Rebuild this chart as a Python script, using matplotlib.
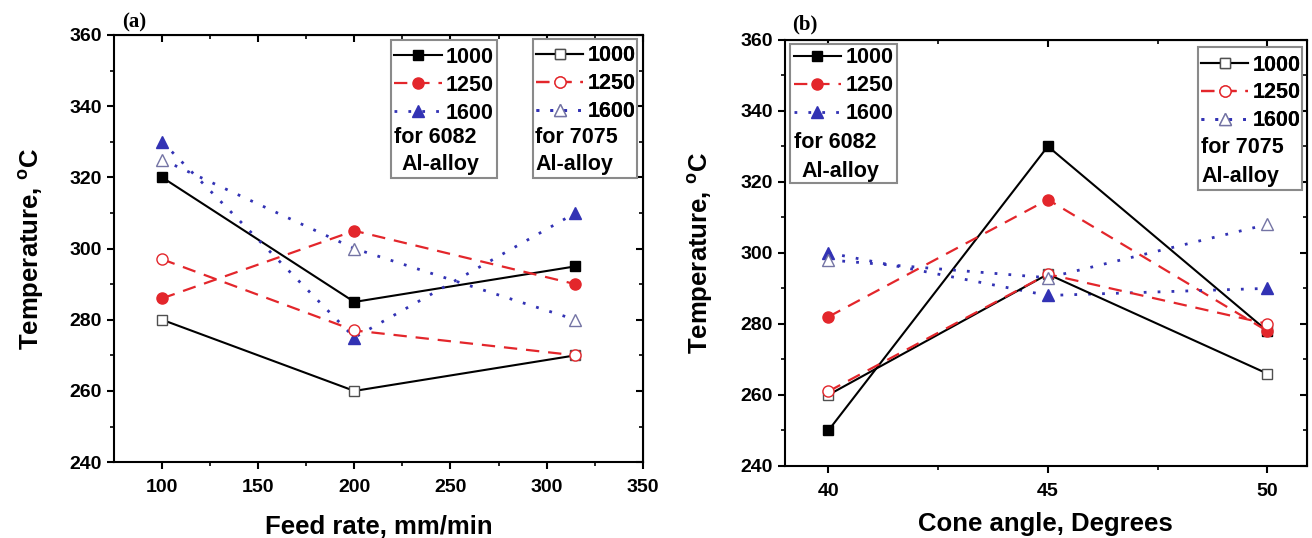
import matplotlib
matplotlib.use("Agg")
import matplotlib.pyplot as plt
from matplotlib.patches import Rectangle
from matplotlib.ticker import MultipleLocator, FixedLocator

plt.rcParams['font.family'] = ['Liberation Sans', 'DejaVu Sans']
plt.rcParams['font.weight'] = 'bold'
plt.rcParams['mathtext.fontset'] = 'custom'
plt.rcParams['mathtext.rm'] = 'Liberation Sans:bold'
plt.rcParams['mathtext.bf'] = 'Liberation Sans:bold'

# ---------------- data ----------------
speeds = ["1000", "1250", "1600"]

feed_rate = [100, 200, 315]
a_6082_1000 = [320, 285, 295]
a_6082_1250 = [286, 305, 290]
a_6082_1600 = [330, 275, 310]
a_7075_1000 = [280, 260, 270]
a_7075_1250 = [297, 277, 270]
a_7075_1600 = [325, 300, 280]

cone_angle = [40, 45, 50]
b_6082_1000 = [250, 330, 278]
b_6082_1250 = [282, 315, 278]
b_6082_1600 = [300, 288, 290]
b_7075_1000 = [260, 294, 266]
b_7075_1250 = [261, 294, 280]
b_7075_1600 = [298, 293, 308]

yticks = [240, 260, 280, 300, 320, 340, 360]
a_xticks = [100, 150, 200, 250, 300, 350]
b_xticks = [40, 45, 50]

# ---------------- styles ----------------
RED = '#e3262b'
BLUE = '#3232b4'
TRI_OPEN = '#7474a4'
SQ_OPEN = '#505050'

styles_filled = [
    dict(color='black', ls='-', lw=1.5, marker='s', ms=7, mfc='black', mec='black'),
    dict(color=RED, ls=(0, (6, 4)), lw=1.6, marker='o', ms=8, mfc=RED, mec=RED),
    dict(color=BLUE, ls=(0, (1, 4)), lw=2.0, marker='^', ms=8, mfc=BLUE, mec=BLUE),
]
styles_open = [
    dict(color='black', ls='-', lw=1.5, marker='s', ms=7, mfc='white', mec=SQ_OPEN, mew=1.0),
    dict(color=RED, ls=(0, (6, 4)), lw=1.6, marker='o', ms=8, mfc='white', mec=RED, mew=1.0),
    dict(color=BLUE, ls=(0, (1, 4)), lw=2.0, marker='^', ms=8, mfc='white', mec=TRI_OPEN, mew=1.0),
]

fig = plt.figure(figsize=(13.12, 5.38), dpi=100)
ax_a = fig.add_axes([0.0869, 0.141, 0.403, 0.794])
ax_b = fig.add_axes([0.598, 0.134, 0.398, 0.792])

LABEL_FS = 18.5
TICK_FS = 14
LEG_FS = 15.5


def style_axes(ax, xticks, xminor, xlim):
    ax.set_ylim(240, 360)
    ax.set_xlim(*xlim)
    ax.set_yticks(yticks)
    ax.set_xticks(xticks)
    ax.yaxis.set_minor_locator(MultipleLocator(10))
    ax.xaxis.set_minor_locator(FixedLocator(xminor))
    for s in ax.spines.values():
        s.set_linewidth(1.5)
    ax.tick_params(which='major', direction='out', length=5, width=1.5, labelsize=TICK_FS)
    ax.tick_params(axis='x', which='major', pad=7)
    ax.tick_params(which='minor', direction='out', length=3, width=1.2)
    for lab in ax.get_xticklabels() + ax.get_yticklabels():
        lab.set_fontweight('bold')
    sx = ax.secondary_xaxis('top')
    sx.set_xticks(xticks)
    sx.xaxis.set_minor_locator(FixedLocator(xminor))
    sx.tick_params(which='major', direction='in', length=5, width=1.5, labeltop=False)
    sx.tick_params(which='minor', direction='in', length=3, width=1.2)
    sy = ax.secondary_yaxis('right')
    sy.set_yticks(yticks)
    sy.yaxis.set_minor_locator(MultipleLocator(10))
    sy.tick_params(which='major', direction='in', length=5, width=1.5, labelright=False)
    sy.tick_params(which='minor', direction='in', length=3, width=1.2)


def alloy_box(ax, handles, x0, y_top, x1, y_bot, alloy, tx, ty1, ty2, tx2, leg_dy):
    rect = Rectangle((x0, y_bot), x1 - x0, y_top - y_bot, transform=ax.transAxes,
                     facecolor='white', edgecolor='#8a8a8a', lw=1.5, zorder=6)
    ax.add_patch(rect)
    leg = ax.legend(handles, speeds, loc='upper left', bbox_to_anchor=(x0, y_top - leg_dy),
                    frameon=False, prop=dict(size=LEG_FS, weight='bold'),
                    handlelength=2.2, handletextpad=0.2, labelspacing=0.32,
                    borderpad=0.15, borderaxespad=0.0)
    leg.set_zorder(7)
    ax.add_artist(leg)
    ax.text(tx, ty1, "for " + alloy, transform=ax.transAxes, fontsize=LEG_FS,
            fontweight='bold', va='center', ha='left', zorder=8)
    ax.text(tx2, ty2, "Al-alloy", transform=ax.transAxes, fontsize=LEG_FS,
            fontweight='bold', va='center', ha='left', zorder=8)


def draw_panel(ax, x, filled, opened):
    hf, ho = [], []
    for ys, st in zip(filled, styles_filled):
        h, = ax.plot(x, ys, zorder=3, **st)
        hf.append(h)
    for ys, st in zip(opened, styles_open):
        h, = ax.plot(x, ys, zorder=3, **st)
        ho.append(h)
    return hf, ho


# ---------------- panel (a) ----------------
hf, ho = draw_panel(ax_a, feed_rate,
                    [a_6082_1000, a_6082_1250, a_6082_1600],
                    [a_7075_1000, a_7075_1250, a_7075_1600])
style_axes(ax_a, a_xticks, [125, 175, 225, 275, 325], (75, 350))
alloy_box(ax_a, hf, 0.524, 0.988, 0.724, 0.665, "6082", 0.530, 0.761, 0.696, 0.543, 0.008)
alloy_box(ax_a, ho, 0.792, 0.991, 0.989, 0.665, "7075", 0.797, 0.761, 0.696, 0.797, 0.008)
ax_a.set_xlabel("Feed rate, mm/min", fontsize=LABEL_FS, fontweight='bold', labelpad=14)
ax_a.set_ylabel(r"Temperature, $^{\mathbf{o}}$C", fontsize=LABEL_FS, fontweight='bold', labelpad=17)
fig.text(134 / 1312, 1 - 22 / 538, "(a)", family='Liberation Serif', fontsize=15,
         fontweight='bold', ha='center', va='center')

# ---------------- panel (b) ----------------
hf, ho = draw_panel(ax_b, cone_angle,
                    [b_6082_1000, b_6082_1250, b_6082_1600],
                    [b_7075_1000, b_7075_1250, b_7075_1600])
style_axes(ax_b, b_xticks, [42.5, 47.5], (39, 50.9))
alloy_box(ax_b, hf, 0.011, 0.990, 0.215, 0.664, "6082", 0.018, 0.758, 0.690, 0.032, 0.0)
alloy_box(ax_b, ho, 0.791, 0.983, 0.990, 0.648, "7075", 0.798, 0.748, 0.680, 0.798, 0.010)
ax_b.set_xlabel("Cone angle, Degrees", fontsize=LABEL_FS, fontweight='bold', labelpad=9)
ax_b.set_ylabel(r"Temperature, $^{\mathbf{o}}$C", fontsize=LABEL_FS, fontweight='bold', labelpad=18)
fig.text(805 / 1312, 1 - 24 / 538, "(b)", family='Liberation Serif', fontsize=15,
         fontweight='bold', ha='center', va='center')

fig.savefig("out.png", dpi=100)
